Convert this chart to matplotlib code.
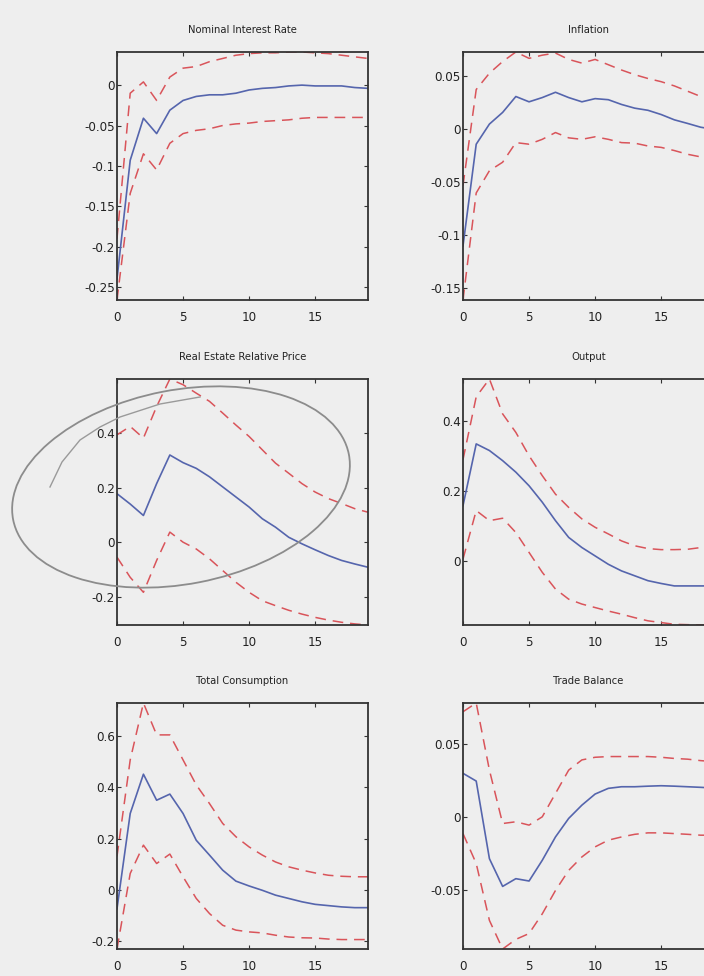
import numpy as np
import matplotlib
matplotlib.use("Agg")
import matplotlib.pyplot as plt
from matplotlib.patches import Ellipse


# =========================
# DATA (impulse responses, horizon 0..19)
# =========================
HORIZON = list(range(20))

nir_mid = [-0.240, -0.093, -0.041, -0.060, -0.031, -0.019, -0.014, -0.012, -0.012, -0.010,
           -0.006, -0.004, -0.003, -0.001, 0.000, -0.001, -0.001, -0.001, -0.003, -0.004]
nir_up = [-0.190, -0.010, 0.004, -0.019, 0.010, 0.021, 0.023, 0.029, 0.033, 0.037,
          0.039, 0.040, 0.040, 0.041, 0.041, 0.040, 0.039, 0.037, 0.035, 0.033]
nir_lo = [-0.266, -0.134, -0.085, -0.105, -0.072, -0.060, -0.056, -0.054, -0.050, -0.048,
          -0.047, -0.045, -0.044, -0.043, -0.041, -0.040, -0.040, -0.040, -0.040, -0.040]

inf_mid = [-0.110, -0.014, 0.005, 0.016, 0.031, 0.026, 0.030, 0.035, 0.030, 0.026,
           0.029, 0.028, 0.0235, 0.020, 0.018, 0.014, 0.009, 0.0056, 0.002, 0.000]
inf_up = [-0.053, 0.0376, 0.053, 0.064, 0.073, 0.067, 0.070, 0.072, 0.066, 0.0625,
          0.066, 0.061, 0.056, 0.0516, 0.048, 0.045, 0.041, 0.036, 0.031, 0.028]
inf_lo = [-0.161, -0.060, -0.039, -0.031, -0.0125, -0.014, -0.0094, -0.003, -0.008, -0.0094,
          -0.007, -0.0094, -0.0125, -0.013, -0.0157, -0.017, -0.020, -0.0235, -0.026, -0.027]

rep_mid = [0.178, 0.140, 0.098, 0.215, 0.320, 0.292, 0.271, 0.240, 0.203, 0.166,
           0.129, 0.086, 0.055, 0.018, -0.006, -0.028, -0.049, -0.067, -0.080, -0.092]
rep_up = [0.394, 0.425, 0.382, 0.498, 0.599, 0.578, 0.547, 0.517, 0.474, 0.430,
          0.388, 0.339, 0.290, 0.253, 0.215, 0.184, 0.160, 0.142, 0.123, 0.110]
rep_lo = [-0.055, -0.129, -0.184, -0.067, 0.037, 0.000, -0.025, -0.061, -0.104, -0.147,
          -0.184, -0.215, -0.233, -0.250, -0.264, -0.276, -0.286, -0.294, -0.300, -0.304]

out_mid = [0.158, 0.335, 0.316, 0.287, 0.254, 0.215, 0.168, 0.115, 0.067, 0.038,
           0.014, -0.010, -0.029, -0.043, -0.057, -0.065, -0.072, -0.072, -0.072, -0.072]
out_up = [0.290, 0.470, 0.521, 0.421, 0.368, 0.301, 0.244, 0.191, 0.153, 0.120,
          0.096, 0.077, 0.057, 0.043, 0.035, 0.032, 0.032, 0.033, 0.038, 0.043]
out_lo = [0.005, 0.144, 0.115, 0.122, 0.081, 0.024, -0.033, -0.081, -0.110, -0.124,
          -0.134, -0.144, -0.153, -0.163, -0.172, -0.177, -0.182, -0.183, -0.184, -0.184]

con_mid = [-0.075, 0.298, 0.452, 0.350, 0.374, 0.298, 0.193, 0.135, 0.076, 0.033,
           0.014, -0.003, -0.022, -0.035, -0.048, -0.058, -0.063, -0.068, -0.071, -0.071]
con_up = [0.130, 0.508, 0.731, 0.606, 0.606, 0.508, 0.410, 0.337, 0.259, 0.207,
          0.167, 0.135, 0.108, 0.089, 0.076, 0.065, 0.056, 0.052, 0.050, 0.050]
con_lo = [-0.233, 0.063, 0.174, 0.102, 0.139, 0.050, -0.035, -0.094, -0.140, -0.159,
          -0.166, -0.170, -0.179, -0.186, -0.189, -0.190, -0.194, -0.196, -0.196, -0.196]

tb_mid = [0.0298, 0.0245, -0.0287, -0.0477, -0.0424, -0.0440, -0.0298, -0.0138, -0.0011, 0.0080,
          0.0156, 0.0195, 0.0206, 0.0206, 0.0210, 0.0213, 0.0210, 0.0206, 0.0202, 0.0197]
tb_up = [0.0720, 0.0780, 0.0320, -0.0046, -0.0034, -0.0057, 0.0000, 0.0160, 0.0320, 0.0390,
         0.0408, 0.0413, 0.0413, 0.0413, 0.0413, 0.0408, 0.0400, 0.0395, 0.0385, 0.0378]
tb_lo = [-0.0115, -0.0320, -0.0710, -0.0906, -0.0840, -0.0800, -0.0665, -0.0505, -0.0367, -0.0275,
         -0.0206, -0.0160, -0.0138, -0.0120, -0.0110, -0.0110, -0.0115, -0.0120, -0.0126, -0.0126]

TITLES = ["Nominal Interest Rate", "Inflation",
          "Real Estate Relative Price", "Output",
          "Total Consumption", "Trade Balance"]
SERIES = [(nir_mid, nir_up, nir_lo), (inf_mid, inf_up, inf_lo),
          (rep_mid, rep_up, rep_lo), (out_mid, out_up, out_lo),
          (con_mid, con_up, con_lo), (tb_mid, tb_up, tb_lo)]
YTICKS = [[-0.25, -0.2, -0.15, -0.1, -0.05, 0],
          [-0.15, -0.1, -0.05, 0, 0.05],
          [-0.2, 0, 0.2, 0.4],
          [0, 0.2, 0.4],
          [-0.2, 0, 0.2, 0.4, 0.6],
          [-0.05, 0, 0.05]]
XTICKS = [0, 5, 10, 15]


# =========================
# STYLE
# =========================
BG = "#eeeeee"
BLUE = "#5565ad"
RED = "#d9545a"
AX_COL = "#333333"

plt.rcParams["font.family"] = ["DejaVu Sans"]
plt.rcParams["font.stretch"] = "condensed"
plt.rcParams["axes.unicode_minus"] = False


def fmt_tick(v):
    # MATLAB-like labels: "0", "-0.05", "0.2"
    return f"{v:g}"


# axes boxes in pixels (left, top/bottom) for the 704x976 canvas
W, H = 704, 976
COL_X = [117, 463]
ROW_Y = [(52, 300), (379, 625), (703, 949)]
AX_W = 251

fig = plt.figure(figsize=(W / 100, H / 100), dpi=100, facecolor=BG)

for k, (title, (mid, up, lo)) in enumerate(zip(TITLES, SERIES)):
    r, c = divmod(k, 2)
    top, bot = ROW_Y[r]
    ax = fig.add_axes([COL_X[c] / W, 1 - bot / H, AX_W / W, (bot - top) / H])
    ax.set_facecolor(BG)

    ax.plot(HORIZON, up, color=RED, lw=1.1, ls=(0, (7, 4.5)))
    ax.plot(HORIZON, lo, color=RED, lw=1.1, ls=(0, (7, 4.5)))
    ax.plot(HORIZON, mid, color=BLUE, lw=1.2)

    # MATLAB "axis tight"
    allv = np.concatenate([mid, up, lo])
    ax.set_xlim(0, HORIZON[-1])
    ax.set_ylim(allv.min(), allv.max())

    ax.set_xticks(XTICKS)
    ax.set_xticklabels([fmt_tick(v) for v in XTICKS])
    ax.set_yticks(YTICKS[k])
    ax.set_yticklabels([fmt_tick(v) for v in YTICKS[k]])

    ax.tick_params(direction="in", length=3, width=0.8, color=AX_COL,
                   top=True, right=True, labelsize=9.5, labelcolor="#222222")
    ax.tick_params(axis="x", pad=8)
    ax.tick_params(axis="y", pad=1.5)

    for sp in ax.spines.values():
        sp.set_color(AX_COL)
        sp.set_linewidth(1.3)

    ax.set_title(title, fontsize=8, color="#222222", pad=14)


# =========================
# hand-drawn ellipse over the Real Estate panel
# =========================
ELL_CENTER = (181, 487)
ELL_W, ELL_H, ELL_ANGLE = 342, 194, -11
STROKE_X = [50, 62, 80, 100, 120, 160, 200]
STROKE_Y = [487, 462, 440, 427, 417, 404, 397]

over = fig.add_axes([0, 0, 1, 1], facecolor="none")
over.set_xlim(0, W)
over.set_ylim(H, 0)
over.axis("off")
over.add_patch(Ellipse(ELL_CENTER, ELL_W, ELL_H, angle=ELL_ANGLE,
                       fill=False, edgecolor="#8c8c8c", lw=1.3))
over.plot(STROKE_X, STROKE_Y, color="#9a9a9a", lw=1.0)

plt.savefig("out.png", dpi=100, facecolor=BG)
plt.close()
